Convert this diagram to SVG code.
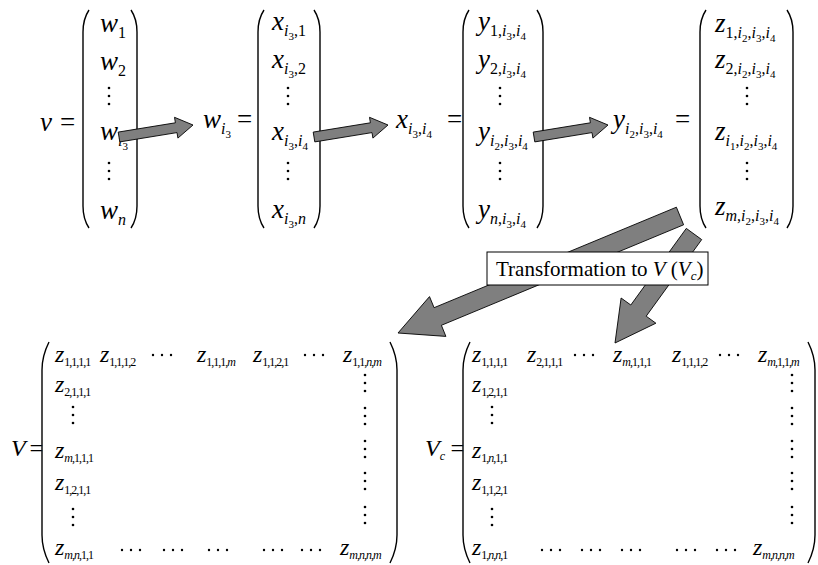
<svg xmlns="http://www.w3.org/2000/svg" width="818" height="565" viewBox="0 0 818 565">
<style>
text{font-family:"Liberation Serif","Times New Roman",Times,Tinos,"Noto Serif","DejaVu Serif",FreeSerif,serif;fill:#000}
.m{font-size:27px;font-style:italic}
.s{font-size:16px}
.ss{font-size:11px}
.u{font-style:normal}
.b{font-size:24px;font-style:italic}
.bs{font-size:12px;letter-spacing:-1px}
.lbl{font-size:21px}
.par{fill:none;stroke:#000;stroke-width:1.4}
.dot{fill:#000}
.arr{fill:#7f7f7f;stroke:#000;stroke-width:0.9;stroke-linejoin:miter}
.box{fill:#fff;stroke:#000;stroke-width:1}
</style>
<defs>
<g id="vd"><circle class="dot" cx="0" cy="-8" r="1.3"/><circle class="dot" cx="0" cy="0" r="1.3"/><circle class="dot" cx="0" cy="8" r="1.3"/></g>
<g id="hd"><circle class="dot" cx="-9" cy="0" r="1.2"/><circle class="dot" cx="0" cy="0" r="1.2"/><circle class="dot" cx="9" cy="0" r="1.2"/></g>
<polygon id="sa" class="arr" points="118.2,132.1 175.4,122.8 174.5,117.3 193,125 177.9,138.1 177,132.6 119.8,141.9"/>
</defs>

<g id="vec-v">
<text class="m" x="40" y="131">v</text>
<text class="m u" x="60" y="131">=</text>
<path class="par" d="M89,10 C85,16 83,22 83,32 L83,206 C83,216 85,222 89,228"/>
<path class="par" d="M131,10 C135,16 137,22 137,32 L137,206 C137,216 135,222 131,228"/>
<text class="m" x="100" y="32">w<tspan class="s u" dy="6">1</tspan></text>
<text class="m" x="100" y="70">w<tspan class="s u" dy="6">2</tspan></text>
<use href="#vd" x="109" y="96"/>
<text class="m" x="100" y="140">w<tspan class="s" dy="6">i</tspan><tspan class="ss u" dy="4">3</tspan></text>
<use href="#vd" x="109" y="171"/>
<text class="m" x="100" y="219">w<tspan class="s" dy="6">n</tspan></text>
</g>

<g id="vec-w">
<text class="m" x="203" y="128">w<tspan class="s" dy="6">i</tspan><tspan class="ss u" dy="4">3</tspan></text>
<text class="m u" x="237" y="128">=</text>
<path class="par" d="M264,10 C260,16 258,22 258,32 L258,206 C258,216 260,222 264,228"/>
<path class="par" d="M314,10 C318,16 320,22 320,32 L320,206 C320,216 318,222 314,228"/>
<text class="m" x="272" y="30">x<tspan class="s" dy="6">i</tspan><tspan class="ss u" dy="4">3</tspan><tspan class="s u" dy="-4">,1</tspan></text>
<text class="m" x="272" y="68">x<tspan class="s" dy="6">i</tspan><tspan class="ss u" dy="4">3</tspan><tspan class="s u" dy="-4">,2</tspan></text>
<use href="#vd" x="288" y="96"/>
<text class="m" x="272" y="140">x<tspan class="s" dy="6">i</tspan><tspan class="ss u" dy="4">3</tspan><tspan class="s u" dy="-4">,</tspan><tspan class="s">i</tspan><tspan class="ss u" dy="4">4</tspan></text>
<use href="#vd" x="288" y="171"/>
<text class="m" x="272" y="218">x<tspan class="s" dy="6">i</tspan><tspan class="ss u" dy="4">3</tspan><tspan class="s u" dy="-4">,</tspan><tspan class="s">n</tspan></text>
</g>

<g id="vec-x">
<text class="m" x="396" y="128">x<tspan class="s" dy="6">i</tspan><tspan class="ss u" dy="4">3</tspan><tspan class="s u" dy="-4">,</tspan><tspan class="s">i</tspan><tspan class="ss u" dy="4">4</tspan></text>
<text class="m u" x="447" y="128">=</text>
<path class="par" d="M469,10 C465,16 463,22 463,32 L463,206 C463,216 465,222 469,228"/>
<path class="par" d="M537,10 C541,16 543,22 543,32 L543,206 C543,216 541,222 537,228"/>
<text class="m" x="478" y="30">y<tspan class="s u" dy="6">1,</tspan><tspan class="s">i</tspan><tspan class="ss u" dy="4">3</tspan><tspan class="s u" dy="-4">,</tspan><tspan class="s">i</tspan><tspan class="ss u" dy="4">4</tspan></text>
<text class="m" x="478" y="68">y<tspan class="s u" dy="6">2,</tspan><tspan class="s">i</tspan><tspan class="ss u" dy="4">3</tspan><tspan class="s u" dy="-4">,</tspan><tspan class="s">i</tspan><tspan class="ss u" dy="4">4</tspan></text>
<use href="#vd" x="500" y="96"/>
<text class="m" x="478" y="140">y<tspan class="s" dy="6">i</tspan><tspan class="ss u" dy="4">2</tspan><tspan class="s u" dy="-4">,</tspan><tspan class="s">i</tspan><tspan class="ss u" dy="4">3</tspan><tspan class="s u" dy="-4">,</tspan><tspan class="s">i</tspan><tspan class="ss u" dy="4">4</tspan></text>
<use href="#vd" x="500" y="171"/>
<text class="m" x="478" y="218">y<tspan class="s" dy="6">n</tspan><tspan class="s u">,</tspan><tspan class="s">i</tspan><tspan class="ss u" dy="4">3</tspan><tspan class="s u" dy="-4">,</tspan><tspan class="s">i</tspan><tspan class="ss u" dy="4">4</tspan></text>
</g>

<g id="vec-y">
<text class="m" x="613" y="128">y<tspan class="s" dy="6">i</tspan><tspan class="ss u" dy="4">2</tspan><tspan class="s u" dy="-4">,</tspan><tspan class="s">i</tspan><tspan class="ss u" dy="4">3</tspan><tspan class="s u" dy="-4">,</tspan><tspan class="s">i</tspan><tspan class="ss u" dy="4">4</tspan></text>
<text class="m u" x="675" y="128">=</text>
<path class="par" d="M706,10 C702,16 700,22 700,32 L700,206 C700,216 702,222 706,228"/>
<path class="par" d="M787,10 C791,16 793,22 793,32 L793,206 C793,216 791,222 787,228"/>
<text class="m" x="715" y="32">z<tspan class="s u" dy="6">1,</tspan><tspan class="s">i</tspan><tspan class="ss u" dy="4">2</tspan><tspan class="s u" dy="-4">,</tspan><tspan class="s">i</tspan><tspan class="ss u" dy="4">3</tspan><tspan class="s u" dy="-4">,</tspan><tspan class="s">i</tspan><tspan class="ss u" dy="4">4</tspan></text>
<text class="m" x="715" y="68">z<tspan class="s u" dy="6">2,</tspan><tspan class="s">i</tspan><tspan class="ss u" dy="4">2</tspan><tspan class="s u" dy="-4">,</tspan><tspan class="s">i</tspan><tspan class="ss u" dy="4">3</tspan><tspan class="s u" dy="-4">,</tspan><tspan class="s">i</tspan><tspan class="ss u" dy="4">4</tspan></text>
<use href="#vd" x="747" y="96"/>
<text class="m" x="715" y="140">z<tspan class="s" dy="6">i</tspan><tspan class="ss u" dy="4">1</tspan><tspan class="s u" dy="-4">,</tspan><tspan class="s">i</tspan><tspan class="ss u" dy="4">2</tspan><tspan class="s u" dy="-4">,</tspan><tspan class="s">i</tspan><tspan class="ss u" dy="4">3</tspan><tspan class="s u" dy="-4">,</tspan><tspan class="s">i</tspan><tspan class="ss u" dy="4">4</tspan></text>
<use href="#vd" x="747" y="171"/>
<text class="m" x="715" y="215">z<tspan class="s" dy="6">m</tspan><tspan class="s u">,</tspan><tspan class="s">i</tspan><tspan class="ss u" dy="4">2</tspan><tspan class="s u" dy="-4">,</tspan><tspan class="s">i</tspan><tspan class="ss u" dy="4">3</tspan><tspan class="s u" dy="-4">,</tspan><tspan class="s">i</tspan><tspan class="ss u" dy="4">4</tspan></text>
</g>

<g id="mat-V">
<text class="b" x="11" y="456">V</text>
<text class="b u" x="28" y="456">=</text>
<path class="par" d="M49,342 C45,350 42,358 42,370 L42,535 C42,547 45,555 49,563"/>
<path class="par" d="M390,342 C394,350 397,358 397,370 L397,535 C397,547 394,555 390,563"/>
<text class="b" x="55" y="362">z<tspan class="bs u" dy="4">1,1,1,1</tspan></text>
<text class="b" x="100" y="362">z<tspan class="bs u" dy="4">1,1,1,2</tspan></text>
<use href="#hd" x="162" y="355"/>
<text class="b" x="197" y="362">z<tspan class="bs" dy="4"><tspan class="u">1,1,1,</tspan>m</tspan></text>
<text class="b" x="253" y="362">z<tspan class="bs u" dy="4">1,1,2,1</tspan></text>
<use href="#hd" x="314" y="355"/>
<text class="b" x="343" y="362">z<tspan class="bs" dy="4"><tspan class="u">1,1,</tspan>n<tspan class="u">,</tspan>m</tspan></text>
<text class="b" x="55" y="392">z<tspan class="bs u" dy="4">2,1,1,1</tspan></text>
<use href="#vd" x="73" y="415"/>
<text class="b" x="55" y="458">z<tspan class="bs" dy="4">m<tspan class="u">,1,1,1</tspan></tspan></text>
<text class="b" x="55" y="490">z<tspan class="bs u" dy="4">1,2,1,1</tspan></text>
<use href="#vd" x="73" y="517"/>
<text class="b" x="55" y="555">z<tspan class="bs" dy="4">m<tspan class="u">,</tspan>n<tspan class="u">,1,1</tspan></tspan></text>
<use href="#hd" x="131" y="550"/>
<use href="#hd" x="173" y="550"/>
<use href="#hd" x="218" y="550"/>
<use href="#hd" x="273" y="550"/>
<use href="#hd" x="311" y="550"/>
<text class="b" x="340" y="555">z<tspan class="bs" dy="4">m<tspan class="u">,</tspan>n<tspan class="u">,</tspan>n<tspan class="u">,</tspan>m</tspan></text>
<use href="#vd" x="365" y="383"/>
<use href="#vd" x="365" y="416"/>
<use href="#vd" x="365" y="449"/>
<use href="#vd" x="365" y="481"/>
<use href="#vd" x="365" y="515"/>
</g>

<g id="mat-Vc">
<text class="b" x="425" y="456">V<tspan class="bs" dy="4">c</tspan></text>
<text class="b u" x="449" y="456">=</text>
<path class="par" d="M470,342 C466,350 463,358 463,370 L463,535 C463,547 466,555 470,563"/>
<path class="par" d="M808,342 C812,350 815,358 815,370 L815,535 C815,547 812,555 808,563"/>
<text class="b" x="472" y="362">z<tspan class="bs u" dy="4">1,1,1,1</tspan></text>
<text class="b" x="527" y="362">z<tspan class="bs u" dy="4">2,1,1,1</tspan></text>
<use href="#hd" x="584" y="355"/>
<text class="b" x="613" y="362">z<tspan class="bs" dy="4">m<tspan class="u">,1,1,1</tspan></tspan></text>
<text class="b" x="672" y="362">z<tspan class="bs u" dy="4">1,1,1,2</tspan></text>
<use href="#hd" x="729" y="355"/>
<text class="b" x="758" y="362">z<tspan class="bs" dy="4">m<tspan class="u">,1,1,</tspan>m</tspan></text>
<text class="b" x="472" y="392">z<tspan class="bs u" dy="4">1,2,1,1</tspan></text>
<use href="#vd" x="492" y="415"/>
<text class="b" x="472" y="458">z<tspan class="bs" dy="4"><tspan class="u">1,</tspan>n<tspan class="u">,1,1</tspan></tspan></text>
<text class="b" x="472" y="490">z<tspan class="bs u" dy="4">1,1,2,1</tspan></text>
<use href="#vd" x="492" y="517"/>
<text class="b" x="472" y="555">z<tspan class="bs" dy="4"><tspan class="u">1,</tspan>n<tspan class="u">,</tspan>n<tspan class="u">,1</tspan></tspan></text>
<use href="#hd" x="551" y="550"/>
<use href="#hd" x="591" y="550"/>
<use href="#hd" x="631" y="550"/>
<use href="#hd" x="686" y="550"/>
<use href="#hd" x="726" y="550"/>
<text class="b" x="753" y="555">z<tspan class="bs" dy="4">m<tspan class="u">,</tspan>n<tspan class="u">,</tspan>n<tspan class="u">,</tspan>m</tspan></text>
<use href="#vd" x="792" y="383"/>
<use href="#vd" x="792" y="416"/>
<use href="#vd" x="792" y="449"/>
<use href="#vd" x="792" y="481"/>
<use href="#vd" x="792" y="515"/>
</g>

<g id="connectors">
<use href="#sa"/>
<use href="#sa" x="195"/>
<use href="#sa" x="415"/>
<polygon class="arr" points="676.4,207.2 434.1,307.7 429.5,296.6 398,333 445.9,336.4 441.4,325.3 683.6,224.8"/>
<polygon class="arr" points="686.3,228.4 630.8,305 621.1,298 615,343 655.9,323.2 646.2,316.2 701.7,239.6"/>
</g>

<g id="label">
<rect class="box" x="487" y="252" width="221" height="33"/>
<text class="lbl" x="496" y="276">Transformation to <tspan font-style="italic">V</tspan> (<tspan font-style="italic">V</tspan><tspan font-style="italic" font-size="13" dy="4">c</tspan><tspan dy="-4">)</tspan></text>
</g>
</svg>
